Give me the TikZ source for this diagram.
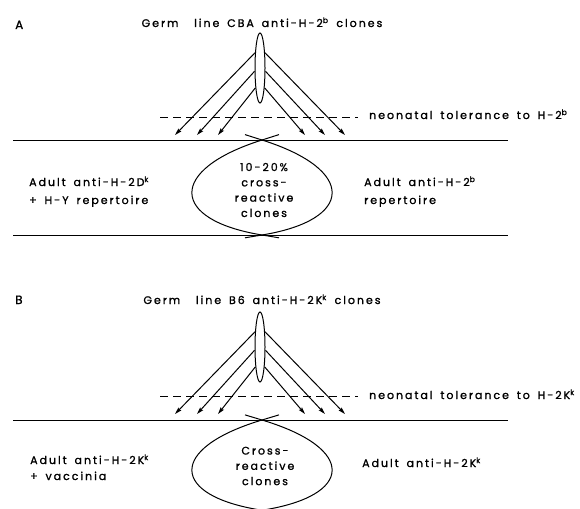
\documentclass[tikz,border=0pt]{standalone}
\usepackage{fontspec}
\setmainfont{Poppins}[LetterSpace=18, WordSpace=1.6, FakeBold=1.2]
\usetikzlibrary{arrows.meta,shapes.geometric}
\begin{document}
\begin{tikzpicture}[x=1pt,y=-1pt,
  lab/.style={font=\fontsize{11}{15.3}\selectfont, inner sep=0pt},
  ln/.style={line width=1pt},
  dashline/.style={line width=1pt, dash pattern=on 8pt off 5pt},
  arr/.style={line width=1pt, -{Stealth[length=7pt,width=4pt,inset=1pt]}},
  germ/.style={draw, line width=1pt, ellipse, minimum width=10pt, minimum height=70pt, inner sep=0pt},
  lens/.pic={
    \draw[line width=1pt] (17,-5.4) -- (0,0) .. controls (-95,30) and (-92,80) .. (0,95) -- (17,97.8);
    \draw[line width=1pt] (-17,-5.4) -- (0,0) .. controls (95,30) and (92,80) .. (0,95) -- (-17,97.8);
  }]
\useasboundingbox (0,0) rectangle (580,508);
\clip (0,0) rectangle (580,508);

% ---------------- Panel A ----------------
\node[lab, font=\fontsize{12}{15}\selectfont, anchor=base west] (labA) at (15,29) {A};
\node[lab, anchor=base] (titleA) at (262,27) {Germ\ \ line CBA anti-H-2\textsuperscript{b} clones};
\node[germ] (gA) at (260,68) {};
\coordinate (aL1) at (175,135);
\coordinate (aL2) at (197,135);
\coordinate (aL3) at (218,135);
\coordinate (aR1) at (345,135);
\coordinate (aR2) at (325,135);
\coordinate (aR3) at (305,135);
\draw[arr] (gA.108) -- (aL1);
\draw[arr] (gA.211) -- (aL2);
\draw[arr] (gA.257) -- (aL3);
\draw[arr] (gA.72) -- (aR1);
\draw[arr] (gA.329) -- (aR2);
\draw[arr] (gA.283) -- (aR3);
\node[lab, anchor=base west] (tolA) at (369,119) {neonatal tolerance to H-2\textsuperscript{b}};
\coordinate (dA) at (160,117);
\draw[dashline] (dA) -- (358,117);
\draw[ln] (13,140) -- (508,140);
\draw[ln] (13,235) -- (508,235);
\pic at (262,140) {lens};
\node[lab, align=center] (crossA) at (264,190) {10-20\,\%\\cross-\\reactive\\clones};
\node[lab, anchor=base west] (leftA1) at (29,186) {Adult anti-H-2D\textsuperscript{k}};
\node[lab, anchor=base west] (leftA2) at (29,204) {+ H-Y repertoire};
\node[lab, anchor=base west] (rightA1) at (364,186) {Adult anti-H-2\textsuperscript{b}};
\node[lab, anchor=base west] (rightA2) at (364,204) {repertoire};

% ---------------- Panel B ----------------
\node[lab, font=\fontsize{12}{15}\selectfont, anchor=base west] (labB) at (15,304) {B};
\node[lab, anchor=base] (titleB) at (262,304) {Germ\ \ line B6 anti-H-2K\textsuperscript{k} clones};
\node[germ] (gB) at (260,347) {};
\coordinate (bL1) at (175,414);
\coordinate (bL2) at (197,414);
\coordinate (bL3) at (218,414);
\coordinate (bR1) at (345,414);
\coordinate (bR2) at (325,414);
\coordinate (bR3) at (305,414);
\draw[arr] (gB.108) -- (bL1);
\draw[arr] (gB.211) -- (bL2);
\draw[arr] (gB.257) -- (bL3);
\draw[arr] (gB.72) -- (bR1);
\draw[arr] (gB.329) -- (bR2);
\draw[arr] (gB.283) -- (bR3);
\node[lab, anchor=base west] (tolB) at (369,399) {neonatal tolerance to H-2K\textsuperscript{k}};
\draw[dashline] (160,396) -- (358,396);
\draw[ln] (13,420) -- (508,420);
\pic[yscale=0.95] at (262,420) {lens};
\node[lab, align=center] (crossB) at (265,466) {Cross-\\reactive\\clones};
\node[lab, anchor=base west] (leftB1) at (30,464) {Adult anti-H-2K\textsuperscript{k}};
\node[lab, anchor=base west] (leftB2) at (30,480) {+ vaccinia};
\node[lab, anchor=base west] (rightB1) at (362,467) {Adult anti-H-2K\textsuperscript{k}};
\end{tikzpicture}
\end{document}
